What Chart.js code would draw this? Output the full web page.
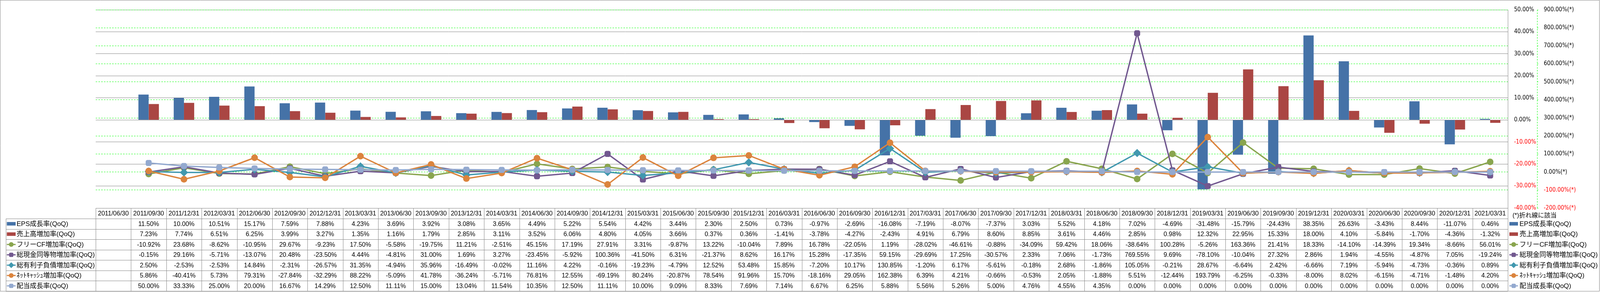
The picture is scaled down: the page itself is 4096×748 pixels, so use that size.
<!DOCTYPE html>
<html lang="ja">
<head>
<meta charset="utf-8">
<title>QoQ成長率</title>
<script src="https://cdn.jsdelivr.net/npm/chart.js@4.4.1/dist/chart.umd.min.js"></script>
<style>
    html, body { margin: 0; padding: 0; background: #fff; }
    #wrap { width: 4096px; height: 748px; position: relative; }
</style>
</head>
<body>
<div id="wrap"><canvas id="growthChart" width="4096" height="748"></canvas></div>
<script>
// ===== DATA =====
const quarters = [
    '2011/06/30','2011/09/30','2011/12/31','2012/03/31','2012/06/30','2012/09/30','2012/12/31','2013/03/31',
    '2013/06/30','2013/09/30','2013/12/31','2014/03/31','2014/06/30','2014/09/30','2014/12/31','2015/03/31',
    '2015/06/30','2015/09/30','2015/12/31','2016/03/31','2016/06/30','2016/09/30','2016/12/31','2017/03/31',
    '2017/06/30','2017/09/30','2017/12/31','2018/03/31','2018/06/30','2018/09/30','2018/12/31','2019/03/31',
    '2019/06/30','2019/09/30','2019/12/31','2020/03/31','2020/06/30','2020/09/30','2020/12/31','2021/03/31'
];

const epsGrowth = [null, 11.50, 10.00, 10.51, 15.17, 7.59, 7.88, 4.23, 3.69, 3.92, 3.08, 3.65, 4.49, 5.22, 5.54, 4.42,
    3.44, 2.30, 2.50, 0.73, -0.97, -2.69, -16.08, -7.19, -8.07, -7.37, 3.03, 5.52, 4.18, 7.02, -4.69, -31.48,
    -15.79, -24.43, 38.35, 26.63, -3.43, 8.44, -11.07, 0.46];

const salesGrowth = [null, 7.23, 7.74, 6.51, 6.25, 3.99, 3.27, 1.35, 1.16, 1.79, 2.85, 3.11, 3.52, 6.06, 4.80, 4.05,
    3.66, 0.37, 0.36, -1.41, -3.78, -4.27, -2.43, 4.91, 6.79, 8.60, 8.85, 3.61, 4.46, 2.85, 0.98, 12.32,
    22.95, 15.33, 18.00, 4.10, -5.84, -1.70, -4.36, -1.32];

const fcfGrowth = [null, -10.92, 23.68, -8.62, -10.95, 29.67, -9.23, 17.50, -5.58, -19.75, 11.21, -2.51, 45.15, 17.19, 27.91, 3.31,
    -9.87, 13.22, -10.04, 7.89, 16.78, -22.05, 1.19, -28.02, -46.61, -0.88, -34.09, 59.42, 18.06, -38.64, 100.28, -5.26,
    163.36, 21.41, 18.33, -14.10, -14.39, 19.34, -8.66, 56.01];

const cashGrowth = [null, -0.15, 29.16, -5.71, -13.07, 20.48, -23.50, 4.44, -4.81, 31.00, 1.69, 3.27, -23.45, -5.92, 100.36, -41.50,
    6.31, -21.37, 8.62, 16.17, 15.28, -17.35, 59.15, -29.69, 17.25, -30.57, 2.33, 7.06, -1.73, 769.55, 9.69, -78.10,
    -10.04, 27.32, 2.86, 1.94, -4.55, -4.87, 7.05, -19.24];

const debtGrowth = [null, 2.50, -2.53, -2.53, 14.84, -2.31, -26.57, 31.35, -4.94, 35.96, -16.49, -0.02, 11.16, 4.22, -0.16, -19.23,
    -4.79, 12.52, 53.48, 15.85, -7.20, 10.17, 130.85, -1.20, 6.17, -5.61, -0.18, 2.68, -1.86, 105.05, -0.21, 28.67,
    -6.64, 2.42, -6.66, 7.19, -5.94, -4.73, -0.36, 0.89];

const netCashGrowth = [null, 5.86, -40.41, 5.73, 79.31, -27.84, -32.29, 88.22, -5.09, 41.78, -36.24, -5.71, 76.81, 12.55, -69.19, 80.24,
    -20.87, 78.54, 91.96, 15.70, -18.16, 29.05, 162.38, 6.39, 4.21, -0.66, -0.53, 2.05, -1.88, 5.51, -12.44, 193.79,
    -6.25, -0.33, -8.00, 8.02, -6.15, -4.71, -1.48, 4.20];

const dividendGrowth = [null, 50.00, 33.33, 25.00, 20.00, 16.67, 14.29, 12.50, 11.11, 15.00, 13.04, 11.54, 10.35, 12.50, 11.11, 10.00,
    9.09, 8.33, 7.69, 7.14, 6.67, 6.25, 5.88, 5.56, 5.26, 5.00, 4.76, 4.55, 4.35, 0.00, 0.00, 0.00,
    0.00, 0.00, 0.00, 0.00, 0.00, 0.00, 0.00, 0.00];

const barAxisRange = [-40, 50, 10];     // 棒グラフ軸 min, max, step
const lineAxisRange = [-200, 900, 100]; // 折れ線軸 min, max, step
const lineNote = '(*)折れ線に該当';

// ===== STYLE =====
const GRAY = '#868686';
const GREEN = '#00ff00';
const TICK_FONT = { family: '"DejaVu Sans Condensed", "DejaVu Sans"', size: 15 };
const TABLE_FONT = '16px "Liberation Sans", "Noto Sans CJK JP"';
const LABEL_FONT = '17px "Liberation Sans", "Noto Sans CJK JP"';

const tickColor = (ctx) => (ctx.tick && ctx.tick.value < 0 ? '#ff0000' : '#000000');

function lineSet(label, data, color, pointStyle, radius, order) {
    return {
        type: 'line', label, data, yAxisID: 'y2', order,
        borderColor: color, backgroundColor: color,
        borderWidth: 3.5, tension: 0,
        pointStyle, pointRadius: radius, pointHoverRadius: radius,
        pointBorderWidth: 0, pointBackgroundColor: color,
    };
}

// データテーブル + 右側の凡例
const dataTable = {
    id: 'dataTable',
    afterDraw(chart) {
        const { ctx, chartArea: area, scales: { x, y2 } } = chart;
        const sets = chart.data.datasets;
        const n = quarters.length;
        const colW = (area.right - area.left) / n;
        const headTop = area.bottom;
        const headBot = 560;
        const tableBot = 745.5;
        const rowH = (tableBot - headBot) / sets.length;
        const labelLeft = 15;
        const crisp = (v) => Math.round(v) + 0.5;

        ctx.save();
        // 折れ線軸の縦線 (破線)
        ctx.strokeStyle = GREEN;
        ctx.lineWidth = 1;
        ctx.setLineDash([4, 3]);
        ctx.beginPath();
        ctx.moveTo(crisp(y2.left), area.top);
        ctx.lineTo(crisp(y2.left), area.bottom);
        ctx.stroke();
        ctx.setLineDash([]);

        ctx.strokeStyle = GRAY;
        ctx.beginPath();
        // 外枠
        ctx.rect(0.5, 0.5, chart.width - 2, tableBot);
        // 縦線
        for (let i = 0; i <= n; i++) {
            const xx = crisp(area.left + i * colW);
            ctx.moveTo(xx, headTop);
            ctx.lineTo(xx, tableBot);
        }
        ctx.moveTo(crisp(labelLeft), headBot);
        ctx.lineTo(crisp(labelLeft), tableBot);
        // 横線
        ctx.moveTo(area.left, crisp(headTop));
        ctx.lineTo(area.right, crisp(headTop));
        for (let r = 0; r <= sets.length; r++) {
            const yy = crisp(headBot + r * rowH);
            ctx.moveTo(labelLeft, yy);
            ctx.lineTo(area.right, yy);
        }
        ctx.stroke();

        ctx.fillStyle = '#000';
        ctx.textBaseline = 'middle';
        ctx.textAlign = 'center';
        ctx.font = TABLE_FONT;
        quarters.forEach((q, i) => {
            ctx.fillText(q, x.getPixelForValue(i), (headTop + headBot) / 2 + 1);
        });
        sets.forEach((ds, r) => {
            const cy = headBot + (r + 0.5) * rowH;
            ds.data.forEach((v, i) => {
                if (v === null) return;
                ctx.fillText(v.toFixed(2) + '%', x.getPixelForValue(i), cy + 1);
            });
        });

        // 行見出し・凡例
        ctx.textAlign = 'left';
        ctx.font = LABEL_FONT;
        sets.forEach((ds, r) => {
            const cy = headBot + (r + 0.5) * rowH;
            drawKey(ctx, ds, 17.5, 40, cy);
            ctx.fillStyle = '#000';
            ctx.fillText(ds.label, 42.5, cy + 1);
            drawKey(ctx, ds, 3864, 3886, cy);
            ctx.fillStyle = '#000';
            ctx.fillText(ds.label, 3890, cy + 1);
        });
        ctx.font = TABLE_FONT;
        ctx.fillText(lineNote, 3872, 553);
        ctx.restore();
    }
};

function drawKey(ctx, ds, x0, x1, cy) {
    if (ds.type === 'bar') {
        ctx.fillStyle = ds.backgroundColor;
        ctx.fillRect(x0, cy - 4.5, x1 - x0, 9);
        return;
    }
    ctx.strokeStyle = ds.borderColor;
    ctx.lineWidth = 3;
    ctx.beginPath();
    ctx.moveTo(x0, cy);
    ctx.lineTo(x1, cy);
    ctx.stroke();
    ctx.fillStyle = ds.borderColor;
    Chart.helpers.drawPoint(ctx, {
        pointStyle: ds.pointStyle, radius: ds.pointRadius * 0.72, rotation: 0, borderWidth: 0
    }, (x0 + x1) / 2, cy);
}

document.addEventListener('DOMContentLoaded', () => {
    const ctx = document.getElementById('growthChart').getContext('2d');

    new Chart(ctx, {
        type: 'bar',
        data: {
            labels: quarters,
            datasets: [
                { type: 'bar', label: 'EPS成長率(QoQ)', data: epsGrowth, yAxisID: 'y', order: 10,
                  backgroundColor: '#4572A7', categoryPercentage: 0.58, barPercentage: 1 },
                { type: 'bar', label: '売上高増加率(QoQ)', data: salesGrowth, yAxisID: 'y', order: 10,
                  backgroundColor: '#AA4643', categoryPercentage: 0.58, barPercentage: 1 },
                lineSet('フリーCF増加率(QoQ)', fcfGrowth, '#89A54E', 'circle', 8.5, 5),
                lineSet('総現金同等物増加率(QoQ)', cashGrowth, '#71588F', 'rectRounded', 9, 4),
                lineSet('総有利子負債増加率(QoQ)', debtGrowth, '#4198AF', 'rectRot', 10.5, 3),
                lineSet('ﾈｯﾄｷｬｯｼｭ増加率(QoQ)', netCashGrowth, '#DB843D', 'circle', 8.5, 2),
                lineSet('配当成長率(QoQ)', dividendGrowth, '#93A9CF', 'rectRounded', 9, 1),
            ]
        },
        options: {
            responsive: false,
            animation: false,
            devicePixelRatio: 1,
            layout: { padding: { left: 245, top: 11, right: 0, bottom: 215 }, autoPadding: false },
            plugins: {
                legend: { display: false },
                tooltip: { enabled: false }
            },
            scales: {
                x: {
                    type: 'category',
                    display: false,
                    offset: true,
                    grid: { display: false }
                },
                y: {
                    position: 'right',
                    min: barAxisRange[0], max: barAxisRange[1],
                    afterFit: (s) => { s.width = 75; },
                    grid: { color: GRAY, lineWidth: 1, drawTicks: false },
                    border: { display: true, color: GRAY, width: 1 },
                    ticks: {
                        stepSize: barAxisRange[2], padding: 16,
                        font: TICK_FONT, color: tickColor,
                        callback: (v) => v.toFixed(2) + '%'
                    }
                },
                y2: {
                    position: 'right',
                    min: lineAxisRange[0], max: lineAxisRange[1],
                    afterFit: (s) => { s.width = 161; },
                    grid: { color: GREEN, lineWidth: 1, tickLength: 3, drawTicks: true, tickBorderDash: [] },
                    border: { display: false, dash: [4, 3] },
                    ticks: {
                        stepSize: lineAxisRange[2], padding: 14, maxTicksLimit: 20,
                        font: TICK_FONT, color: tickColor,
                        callback: (v) => v.toFixed(2) + '%(*)'
                    }
                }
            }
        },
        plugins: [dataTable]
    });
});
</script>
</body>
</html>
